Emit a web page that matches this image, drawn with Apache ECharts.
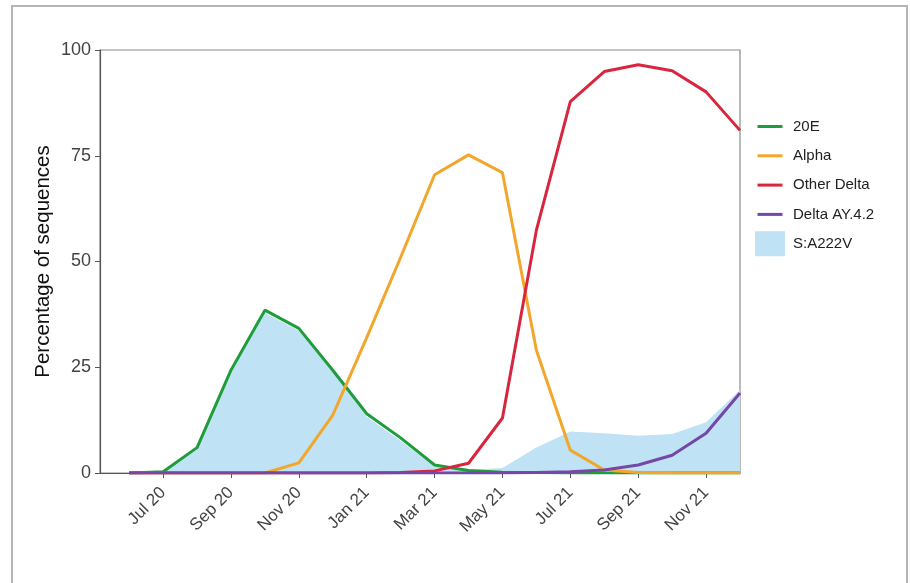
<!DOCTYPE html>
<html>
<head>
<meta charset="utf-8">
<script src="https://cdn.jsdelivr.net/npm/echarts@6/dist/echarts.min.js"></script>
<style>
html,body{margin:0;padding:0;background:#fff;}
#c{width:910px;height:583px;}
</style>
</head>
<body>
<div id="c"></div>
<script>
// Month categories (index 0 = Jun 20)
const months = ['Jun 20','Jul 20','Aug 20','Sep 20','Oct 20','Nov 20','Dec 20',
  'Jan 21','Feb 21','Mar 21','Apr 21','May 21','Jun 21','Jul 21','Aug 21','Sep 21','Oct 21','Nov 21','Dec 21'];
const tickIdx = [1,3,5,7,9,11,13,15,17];
const yTicks = [0,25,50,75,100];

const s20E       = [0,0.3,6,24.3,38.5,34.2,24.3,14,8.3,1.9,0.6,0.2,0.1,0,0,0,0,0,0];
const sAlpha     = [0,0,0,0,0,2.4,13.7,32,51,70.5,75.2,71,29,5.4,0.7,0.1,0,0,0];
const sOther     = [0,0,0,0,0,0,0,0,0.1,0.5,2.3,13,57.4,87.8,94.9,96.5,95.1,90.1,81];
const sAY42      = [0,0,0,0,0,0,0,0,0,0,0,0,0.1,0.3,0.7,1.9,4.2,9.4,18.9];
const sA222V     = [0,0.2,5.5,23.5,37.8,33.6,23.8,13.3,7.6,1.5,0.7,1.2,6,9.8,9.4,8.8,9.2,12,19.6];

const names = ['20E','Alpha','Other Delta','Delta AY.4.2','S:A222V'];
const colors = ['#1f9c3c','#f2a72c','#d8263f','#7547a6','#bfe3f4'];

const toPts = arr => arr.map((v,i)=>[i,v]);
const linePath = 'path://M0,0M30,25M2.5,11H27.5V14H2.5Z';
const FF = 'Liberation Sans, Arial, sans-serif';

const chart = echarts.init(document.getElementById('c'), null, {renderer:'canvas'});
chart.setOption({
  animation:false,
  textStyle:{fontFamily:FF},
  graphic:[{type:'rect', shape:{x:12,y:6,width:895,height:640}, style:{fill:'none',stroke:'#b5b5b5',lineWidth:2}, silent:true}],
  grid:{left:100,right:170,top:50,bottom:110,show:true,borderColor:'#8a8a8a',borderWidth:1.2,backgroundColor:'transparent'},
  legend:{
    orient:'vertical', left:755, top:114, padding:0, itemWidth:30, itemHeight:25, itemGap:4.3,
    textStyle:{fontSize:15,color:'#222',fontFamily:FF, padding:[0,0,0,3]},
    data:[
      {name:names[0], icon:linePath},
      {name:names[1], icon:linePath},
      {name:names[2], icon:linePath},
      {name:names[3], icon:linePath},
      {name:names[4], icon:'rect'}
    ]
  },
  xAxis:{
    type:'value', min:-0.86, max:18,
    axisLine:{show:true,onZero:false,lineStyle:{color:'#555',width:1.2}},
    axisTick:{show:true,length:5,lineStyle:{color:'#555'},customValues:tickIdx},
    splitLine:{show:false},
    axisLabel:{customValues:tickIdx,rotate:45,fontSize:17,color:'#444',margin:17,padding:[18,0,0,0],
      formatter:v=>months[Math.round(v)]||''}
  },
  yAxis:{
    type:'value', min:0, max:100, interval:25,
    name:'Percentage of sequences', nameLocation:'middle', nameGap:46, nameMoveOverlap:false,
    nameTextStyle:{fontSize:20.5,color:'#111'},
    axisLine:{show:true,onZero:false,lineStyle:{color:'#555',width:1.2}},
    axisTick:{show:true,length:5,lineStyle:{color:'#555'}},
    splitLine:{show:false},
    axisLabel:{fontSize:18,color:'#444',margin:9,formatter:v=>yTicks.includes(v)?String(v):''}
  },
  series:[
    {name:names[4], type:'line', data:toPts(sA222V), symbol:'none', lineStyle:{width:0}, itemStyle:{color:colors[4]}, areaStyle:{color:colors[4],opacity:1}, z:1},
    {name:names[0], type:'line', data:toPts(s20E), symbol:'none', lineStyle:{width:3,color:colors[0]}, itemStyle:{color:colors[0]}, z:2},
    {name:names[1], type:'line', data:toPts(sAlpha), symbol:'none', lineStyle:{width:3,color:colors[1]}, itemStyle:{color:colors[1]}, z:3},
    {name:names[2], type:'line', data:toPts(sOther), symbol:'none', lineStyle:{width:3,color:colors[2]}, itemStyle:{color:colors[2]}, z:4},
    {name:names[3], type:'line', data:toPts(sAY42), symbol:'none', lineStyle:{width:3,color:colors[3]}, itemStyle:{color:colors[3]}, z:5}
  ]
});
</script>
</body>
</html>
